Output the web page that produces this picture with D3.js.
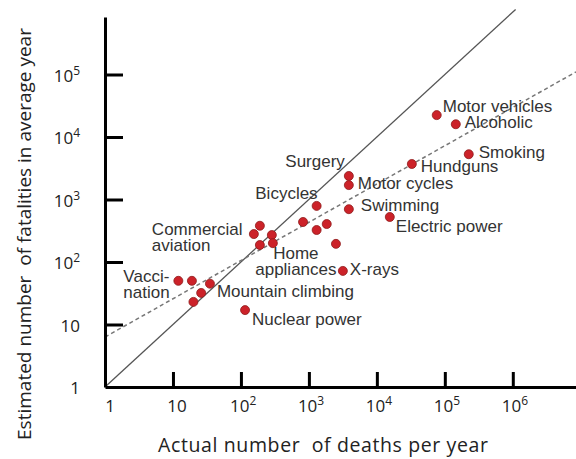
<!DOCTYPE html>
<html>
<head>
<meta charset="utf-8">
<script src="https://cdn.jsdelivr.net/npm/d3@7"></script>
<style>
  body { margin: 0; background: #fff; }
  svg { display: block; }
</style>
</head>
<body>
<div id="chart"></div>
<script>
// risk perception data: actual vs estimated deaths per year
var names = ["Motor vehicles", "Alcoholic", "Smoking", "Hundguns", "Surgery", "Motor cycles",
  "Swimming", "Electric power", "Bicycles", "", "", "", "", "X-rays", "", "Commercial\naviation",
  "", "", "Home\nappliances", "Vacci-\nnation", "", "Mountain climbing", "", "", "Nuclear power"]
var actual = [76000, 145000, 225000, 32700, 3870, 3870, 3870, 15500, 1300, 820, 1300, 1830, 2500,
  3160, 190, 155, 285, 190, 295, 12, 19, 35, 26, 20, 115]
var estimated = [22400, 16000, 5300, 3700, 2380, 1700, 700, 525, 790, 437, 325, 405, 195,
  72, 380, 280, 270, 187, 200, 50, 50, 45, 32, 23, 17]

var xTickExp = [0, 1, 2, 3, 4, 5, 6]
var yTickExp = [0, 1, 2, 3, 4, 5]
// perfect-estimate line and fitted trend line (endpoints, data units)
var diagonal = [[1, 1], [1.1e6, 1.1e6]]
var trend = [[1, 6.3], [8.5e6, 1.1e5]]

// label placement (pixels from the dot)
var labelPos = {
  "Motor vehicles": [6, -3, "start"],
  "Alcoholic": [9, 4, "start"],
  "Smoking": [10, 4, "start"],
  "Hundguns": [9, 8, "start"],
  "Surgery": [-4, -9, "end"],
  "Motor cycles": [9, 4, "start"],
  "Swimming": [12, 2, "start"],
  "Electric power": [6, 15, "start"],
  "Bicycles": [1, -7, "end"],
  "X-rays": [7, 4, "start"],
  "Commercial\naviation": [-102, 1, "start"],
  "Home\nappliances": [23, 16, "middle"],
  "Vacci-\nnation": [-55, 1, "start"],
  "Mountain climbing": [7, 13, "start"],
  "Nuclear power": [7, 15, "start"]
}

var width = 576, height = 459

var svg = d3.select("#chart").append("svg")
  .attr("width", width).attr("height", height)

var x = d3.scaleLog().domain([1, Math.pow(10, 6.93)]).range([105, 576])
var y = d3.scaleLog().domain([1, Math.pow(10, 5.92)]).range([387, 17])

var line = d3.line().x(d => x(d[0])).y(d => y(d[1]))

svg.append("path").datum(diagonal).attr("d", line)
  .attr("fill", "none").attr("stroke", "#555").attr("stroke-width", 1.3)

svg.append("path").datum(trend).attr("d", line)
  .attr("fill", "none").attr("stroke", "#777").attr("stroke-width", 1.5)
  .attr("stroke-dasharray", "4,3")

// axes, ticks pointing inward, labels drawn separately
svg.append("g").attr("transform", "translate(0,387)")
  .call(d3.axisBottom(x).tickValues(xTickExp.slice(1).map(e => Math.pow(10, e)))
    .tickSize(-15).tickSizeOuter(0).tickFormat(""))
svg.append("g").attr("transform", "translate(105,0)")
  .call(d3.axisLeft(y).tickValues(yTickExp.slice(1).map(e => Math.pow(10, e)))
    .tickSize(-18).tickSizeOuter(0).tickFormat(""))

svg.selectAll(".domain").attr("stroke", "#000").attr("stroke-width", 3)
svg.selectAll(".tick line").attr("stroke", "#000").attr("stroke-width", 3)

function tickLabel(sel, e) {
  if (e == 0) sel.text("1")
  else if (e == 1) sel.text("10")
  else {
    sel.append("tspan").text("10")
    sel.append("tspan").attr("dy", -7).attr("font-size", 12).text(e)
  }
}

xTickExp.forEach(function(e) {
  var t = svg.append("text")
    .attr("font-family", "Open Sans").attr("font-size", 17).attr("fill", "#222")
    .attr("y", 412)
  if (e == 0) t.attr("x", x(1) + 5).attr("text-anchor", "middle")
  else if (e == 1) t.attr("x", x(10) + 4).attr("text-anchor", "middle")
  else t.attr("x", x(Math.pow(10, e)) - 11)
  tickLabel(t, e)
})

yTickExp.forEach(function(e) {
  var t = svg.append("text")
    .attr("font-family", "Open Sans").attr("font-size", 17).attr("fill", "#222")
    .attr("x", 80).attr("y", y(Math.pow(10, e)) + 7).attr("text-anchor", "end")
  tickLabel(t, e)
})

svg.append("text").attr("x", 158).attr("y", 452)
  .attr("font-family", "Open Sans").attr("font-size", 19.5).attr("fill", "#222")
  .attr("textLength", 330).attr("lengthAdjust", "spacing")
  .text("Actual number  of deaths per year")
  .attr("xml:space", "preserve")

svg.append("text").attr("transform", "translate(31,234) rotate(-90)")
  .attr("text-anchor", "middle")
  .attr("font-family", "Open Sans").attr("font-size", 19).attr("fill", "#222")
  .text("Estimated number  of fatalities in average year")
  .attr("xml:space", "preserve")

var data = names.map((n, i) => ({ name: n, a: actual[i], e: estimated[i] }))

svg.selectAll("circle.pt").data(data).enter().append("circle")
  .attr("class", "pt")
  .attr("cx", d => x(d.a)).attr("cy", d => y(d.e)).attr("r", 4.5)
  .attr("fill", "#cc2229").attr("stroke", "#8e1b1b").attr("stroke-width", 0.8)

data.filter(d => d.name).forEach(function(d) {
  var p = labelPos[d.name]
  var t = svg.append("text")
    .attr("font-family", "Liberation Sans, Arial").attr("font-size", 17).attr("fill", "#333")
    .attr("text-anchor", p[2])
  d.name.split("\n").forEach(function(s, k) {
    t.append("tspan").attr("x", x(d.a) + p[0]).attr("y", y(d.e) + p[1] + k * 16).text(s)
  })
})
</script>
</body>
</html>
